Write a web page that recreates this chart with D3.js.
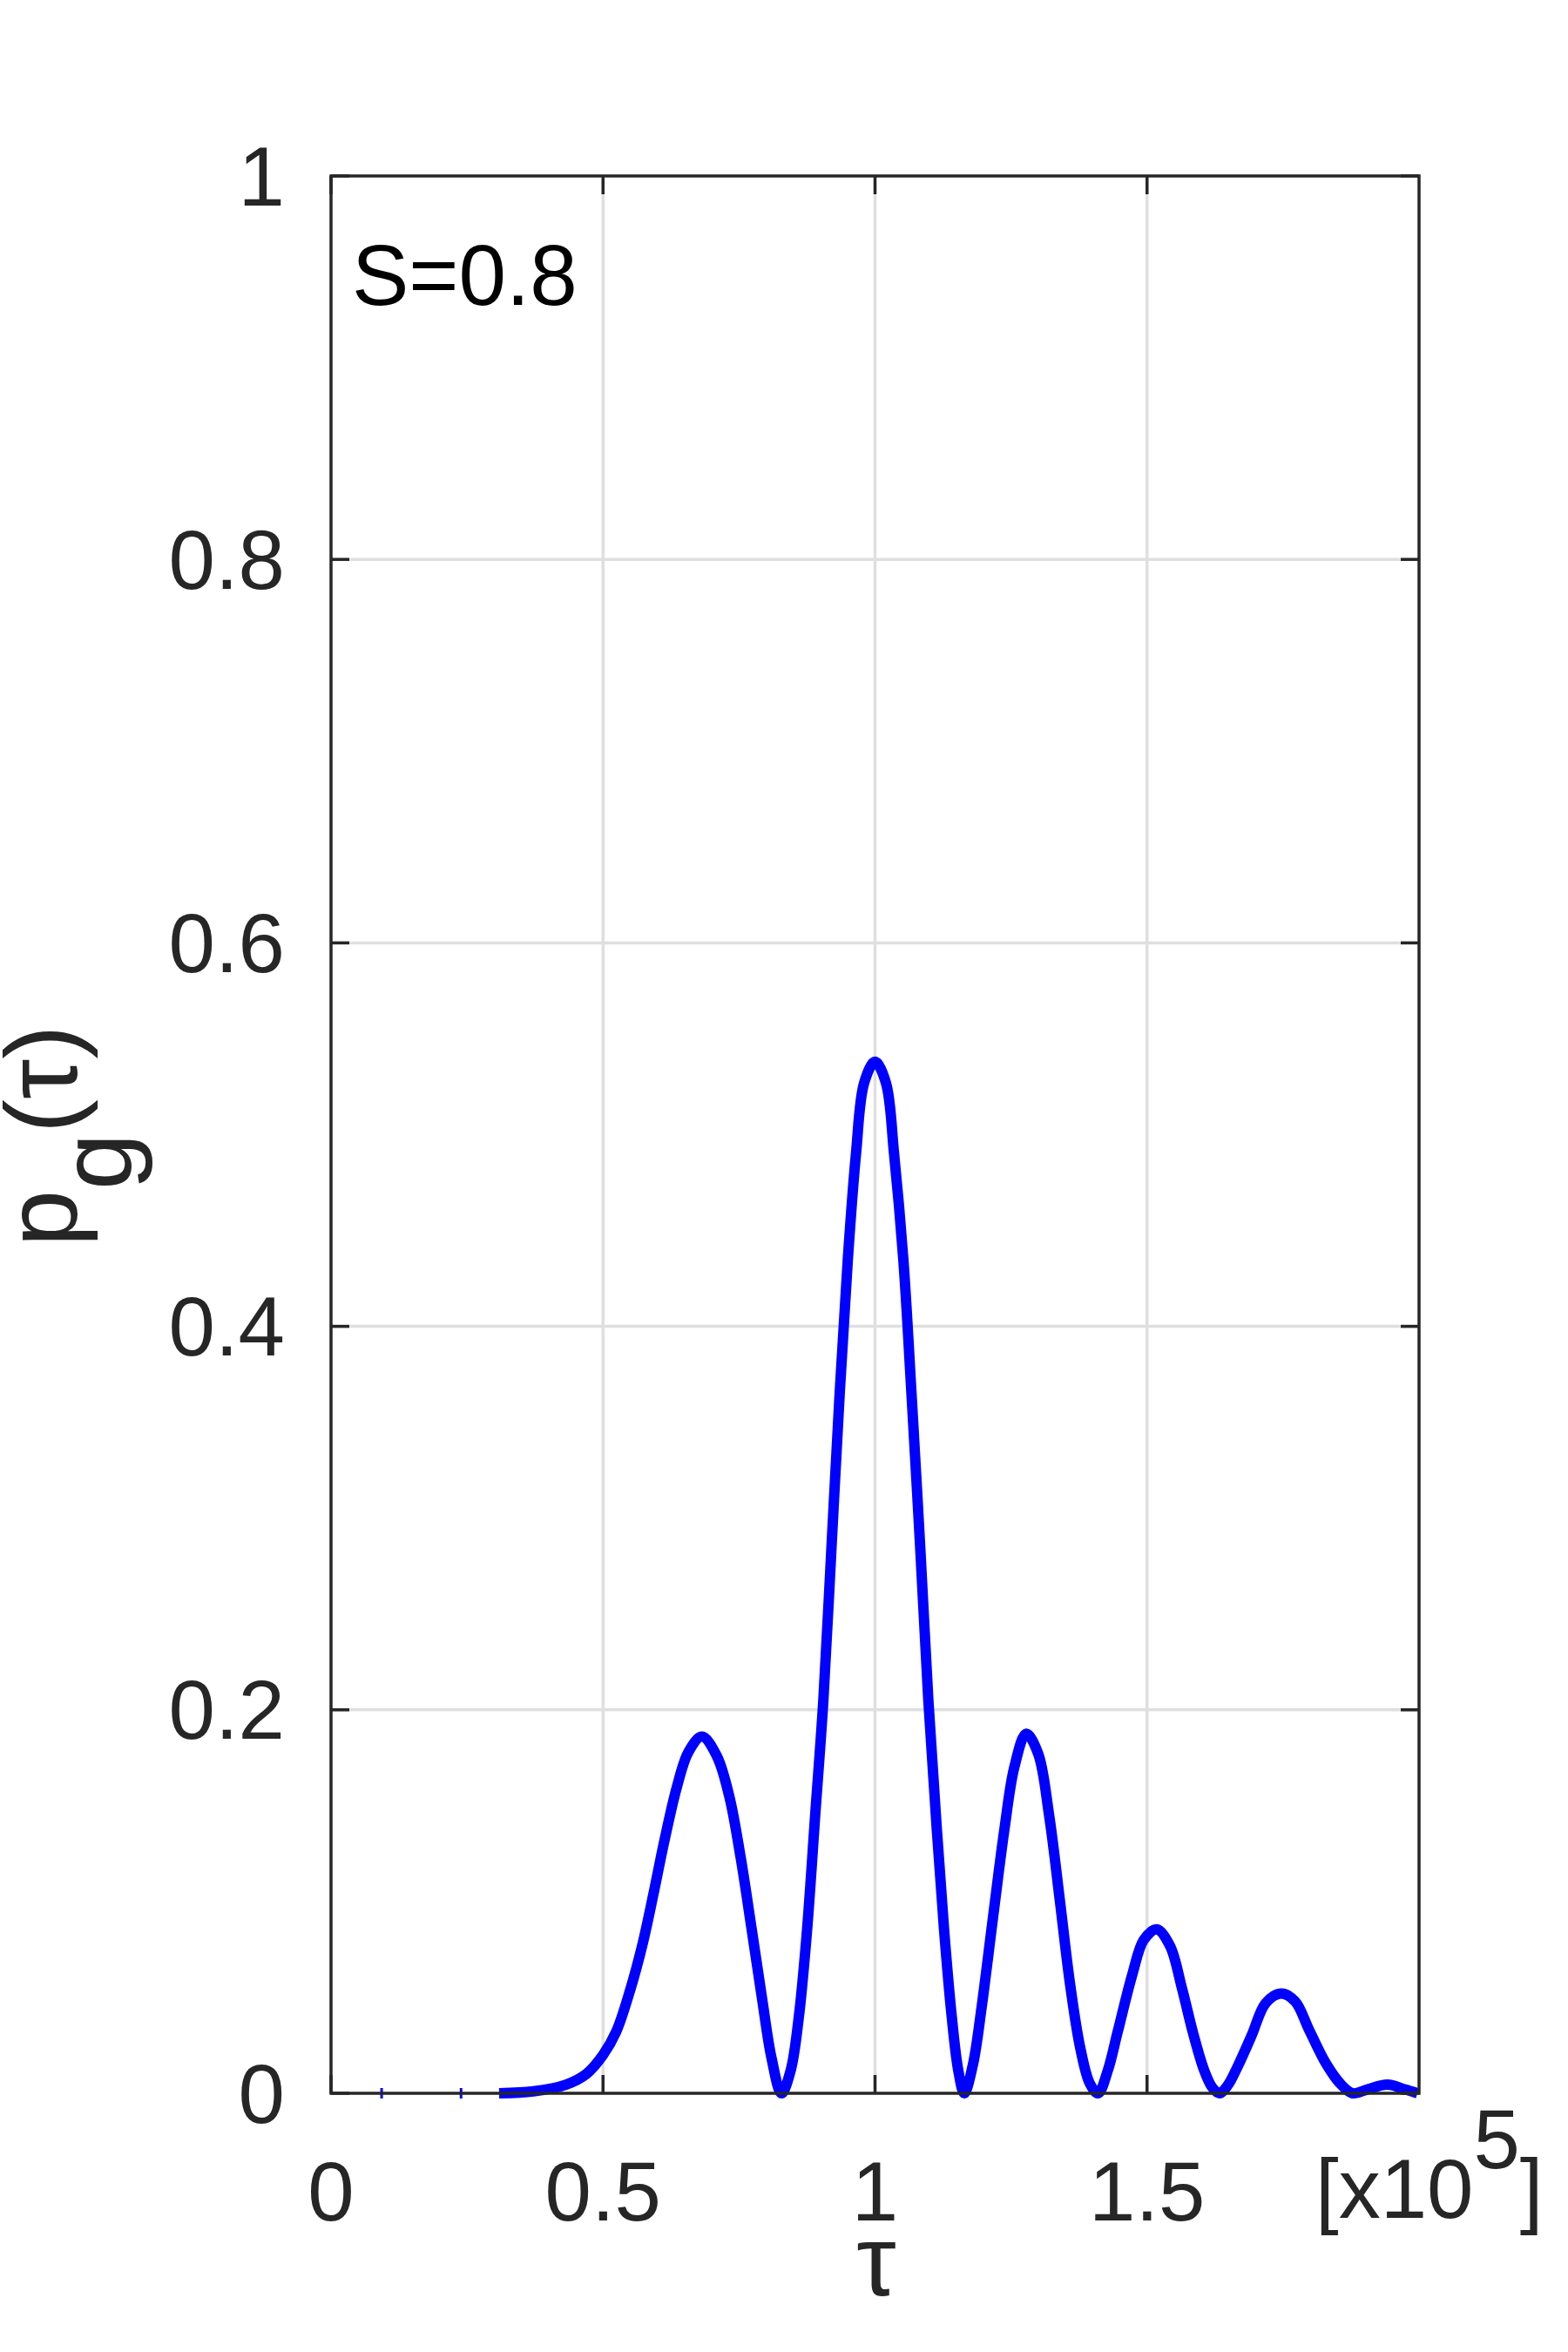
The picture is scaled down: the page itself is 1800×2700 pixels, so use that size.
<!DOCTYPE html>
<html>
<head>
<meta charset="utf-8">
<script src="https://cdn.jsdelivr.net/npm/d3@7"></script>
<style>
  body { margin: 0; background: #fff; }
  text { font-family: "Liberation Sans", Arial, Helvetica, sans-serif; }
</style>
</head>
<body>
<script>
const w = 1800;
const h = 2700;
const box = { left: 380, right: 1629, top: 202, bottom: 2403 };

// tau in units of 1e5
const tau = [0.309, 0.372, 0.432, 0.469, 0.5, 0.524, 0.549, 0.572, 0.592, 0.613,
  0.636, 0.657, 0.682, 0.709, 0.732, 0.753, 0.773, 0.792, 0.81, 0.828,
  0.845, 0.86, 0.875, 0.89, 0.905, 0.92, 0.935, 0.95, 0.965, 0.98,
  1.0, 1.02, 1.035, 1.052, 1.067, 1.083, 1.098, 1.113, 1.127, 1.141,
  1.153, 1.164, 1.18, 1.196, 1.217, 1.238, 1.256, 1.278, 1.3, 1.32,
  1.34, 1.358, 1.377, 1.395, 1.41, 1.428, 1.446, 1.473, 1.494, 1.5175,
  1.542, 1.564, 1.585, 1.605, 1.62, 1.633, 1.648, 1.665, 1.692, 1.718,
  1.746, 1.772, 1.798, 1.83, 1.857, 1.878, 1.905, 1.942, 1.974, 1.997];
const pg = [0, 0.001, 0.0045, 0.01, 0.02, 0.032, 0.053, 0.077, 0.103, 0.132,
  0.16, 0.178, 0.186, 0.176, 0.155, 0.123, 0.086, 0.05, 0.018, 0,
  0.012, 0.04, 0.085, 0.145, 0.205, 0.285, 0.365, 0.435, 0.49, 0.527,
  0.538, 0.527, 0.49, 0.435, 0.365, 0.285, 0.205, 0.14, 0.085, 0.04,
  0.012, 0, 0.015, 0.045, 0.092, 0.138, 0.17, 0.1875, 0.177, 0.145,
  0.1, 0.058, 0.024, 0.005, 0, 0.012, 0.032, 0.062, 0.08, 0.0855,
  0.077, 0.055, 0.031, 0.012, 0.003, 0, 0.004, 0.013, 0.03, 0.047,
  0.052, 0.048, 0.033, 0.015, 0.0045, 0, 0.002, 0.0045, 0.002, 0];
// stray single samples sitting on the axis
const blipTau = [0.093, 0.239];

const xTicks = [0, 0.5, 1, 1.5];
const xTickLabels = ["0", "0.5", "1", "1.5"];
const yTicks = [0, 0.2, 0.4, 0.6, 0.8, 1];
const yTickLabels = ["0", "0.2", "0.4", "0.6", "0.8", "1"];

const axisColor = "#262626";

const x = d3.scaleLinear().domain([0, 2]).range([box.left, box.right]);
const y = d3.scaleLinear().domain([0, 1]).range([box.bottom, box.top]);

const svg = d3.select("body").append("svg")
  .attr("width", w)
  .attr("height", h);

svg.append("rect").attr("width", w).attr("height", h).attr("fill", "#fff");

svg.append("clipPath").attr("id", "plot-clip")
  .append("rect")
  .attr("x", box.left - 10).attr("y", box.top - 10)
  .attr("width", box.right - box.left + 20)
  .attr("height", box.bottom - box.top + 17);

// grid
svg.append("g").selectAll("line")
  .data(xTicks.slice(1))
  .join("line")
  .attr("x1", d => x(d)).attr("x2", d => x(d))
  .attr("y1", box.top).attr("y2", box.bottom)
  .attr("stroke", "#dfdfdf").attr("stroke-width", 3.5);
svg.append("g").selectAll("line")
  .data(yTicks.slice(1, -1))
  .join("line")
  .attr("y1", d => y(d)).attr("y2", d => y(d))
  .attr("x1", box.left).attr("x2", box.right)
  .attr("stroke", "#dfdfdf").attr("stroke-width", 3.5);

// curve
const line = d3.line()
  .x((d, i) => x(tau[i]))
  .y(d => y(d))
  .curve(d3.curveCatmullRom.alpha(0.5));

svg.append("path")
  .attr("d", line(pg))
  .attr("clip-path", "url(#plot-clip)")
  .attr("fill", "none")
  .attr("stroke", "#0000ff")
  .attr("stroke-width", 12)
  .attr("stroke-linejoin", "round");

svg.append("g").selectAll("line")
  .data(blipTau)
  .join("line")
  .attr("x1", d => x(d)).attr("x2", d => x(d))
  .attr("y1", y(0) - 6).attr("y2", y(0) + 6)
  .attr("stroke", "#0000ff").attr("stroke-width", 3);

// axes (box with inward ticks on all sides)
const tickLen = 21;
const axes = svg.append("g").attr("stroke", axisColor).attr("stroke-width", 3.5);
axes.append("rect")
  .attr("x", box.left).attr("y", box.top)
  .attr("width", box.right - box.left).attr("height", box.bottom - box.top)
  .attr("fill", "none");
xTicks.forEach(t => {
  axes.append("line").attr("x1", x(t)).attr("x2", x(t)).attr("y1", box.bottom).attr("y2", box.bottom - tickLen);
  axes.append("line").attr("x1", x(t)).attr("x2", x(t)).attr("y1", box.top).attr("y2", box.top + tickLen);
});
yTicks.forEach(t => {
  axes.append("line").attr("y1", y(t)).attr("y2", y(t)).attr("x1", box.left).attr("x2", box.left + tickLen);
  axes.append("line").attr("y1", y(t)).attr("y2", y(t)).attr("x1", box.right).attr("x2", box.right - tickLen);
});

// tick labels
svg.append("g").selectAll("text")
  .data(xTicks)
  .join("text")
  .attr("x", d => x(d))
  .attr("y", 2549)
  .attr("text-anchor", "middle")
  .attr("font-size", 96)
  .attr("fill", axisColor)
  .text((d, i) => xTickLabels[i]);

svg.append("g").selectAll("text")
  .data(yTicks)
  .join("text")
  .attr("x", 327)
  .attr("y", d => y(d))
  .attr("dy", "0.35em")
  .attr("text-anchor", "end")
  .attr("font-size", 96)
  .attr("fill", axisColor)
  .text((d, i) => yTickLabels[i]);

// exponent
const expo = svg.append("text")
  .attr("x", 1510)
  .attr("y", 2546)
  .attr("font-size", 96)
  .attr("fill", axisColor);
expo.append("tspan").text("[x10");
expo.append("tspan").attr("dy", -57).text("5");
expo.append("tspan").attr("dy", 57).text("]");

// axis labels
svg.append("text")
  .attr("x", 1006)
  .attr("y", 2635)
  .attr("text-anchor", "middle")
  .attr("font-size", 115)
  .attr("fill", axisColor)
  .text("τ");

const ylab = svg.append("text")
  .attr("transform", "translate(88,1304) rotate(-90)")
  .attr("text-anchor", "middle")
  .attr("font-size", 117)
  .attr("fill", axisColor);
ylab.append("tspan").text("p");
ylab.append("tspan").attr("dy", 63).text("g");
ylab.append("tspan").attr("dy", -63).text("(τ)");

// annotation
svg.append("text")
  .attr("x", 404)
  .attr("y", 350)
  .attr("font-size", 98)
  .attr("fill", "#000")
  .text("S=0.8");
</script>
</body>
</html>
